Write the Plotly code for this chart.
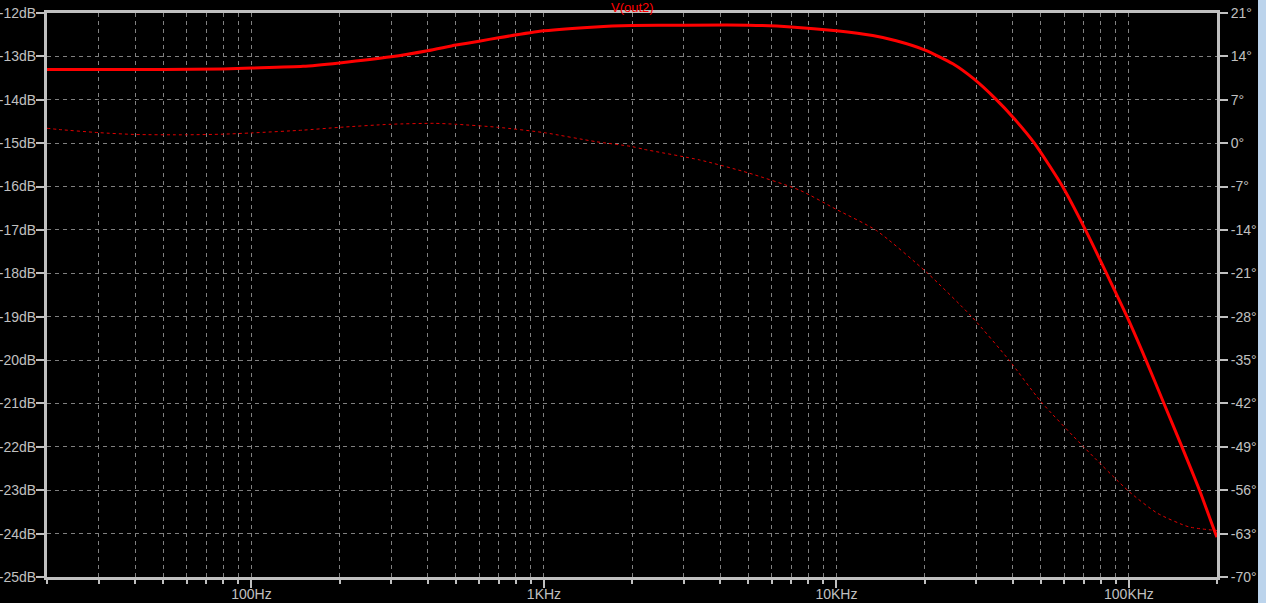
import plotly.graph_objects as go

# ---- data ----
mag_freq = [20, 30, 50, 80, 100, 150, 200, 300, 400, 500, 600, 700, 1000, 1500, 2000,
            3000, 5000, 7000, 10000, 13300, 16000, 20000, 25000, 29500, 35000, 40700,
            47500, 59300, 71000, 83800, 98500, 114300, 131700, 151800, 174300, 197700, 200000]
mag_db = [-13.30, -13.30, -13.30, -13.29, -13.27, -13.23, -13.15, -13.01, -12.87, -12.74,
          -12.65, -12.57, -12.41, -12.32, -12.29, -12.28, -12.28, -12.32, -12.41, -12.52,
          -12.64, -12.85, -13.17, -13.52, -13.98, -14.45, -15.0, -16.0, -17.0, -18.0,
          -19.0, -20.0, -21.0, -22.0, -23.0, -24.0, -24.08]

ph_freq = [20, 22, 30, 40, 60, 80, 100, 150, 200, 300, 420, 500, 700, 1000, 1500, 2000,
           2200, 3400, 5000, 7500, 10000, 13700, 20400, 29000, 38900, 50000, 70000,
           100000, 125000, 160000, 200000]
ph_deg = [2.4, 2.2, 1.7, 1.4, 1.35, 1.45, 1.65, 2.1, 2.55, 3.05, 3.2, 3.05, 2.55, 1.7,
          0.25, -0.55, -1.0, -2.7, -4.8, -7.6, -10.7, -14.1, -20.9, -28.0, -35.0, -41.7,
          -49.0, -56.2, -59.7, -61.9, -62.5]

title_text = "V(out2)"
major_vals = [100, 1000, 10000, 100000]
major_text = ["100Hz", "1KHz", "10KHz", "100KHz"]
minor_vals = [m * d for d in [10, 100, 1000, 10000, 100000] for m in range(2, 10)
              if 20 <= m * d <= 200000]
db_ticks = list(range(-25, -11))
db_text = [f"{v}dB" for v in db_ticks]
deg_ticks = list(range(-70, 22, 7))
deg_text = [f"{v}°" for v in deg_ticks]

# ---- styling ----
AX = "#c0c0c0"
GRID = "#808080"
FONT = dict(family="Liberation Sans, Arial, sans-serif", size=14, color=AX)
W, H = 1266, 603
ML, MR, MT, MB = 47, 49, 13, 26
PW = W - ML - MR

fig = go.Figure()
fig.add_trace(go.Scatter(x=mag_freq, y=mag_db, mode="lines",
                         line=dict(color="#ff0000", width=3, shape="spline", smoothing=0.6),
                         yaxis="y", showlegend=False, hoverinfo="skip"))
fig.add_trace(go.Scatter(x=ph_freq, y=ph_deg, mode="lines",
                         line=dict(color="#e00000", width=1, dash="3px,3px",
                                   shape="spline", smoothing=0.6),
                         yaxis="y2", showlegend=False, hoverinfo="skip"))

fig.update_layout(
    template="none",
    width=W, height=H,
    margin=dict(l=ML, r=MR, t=MT, b=MB, pad=0, autoexpand=False),
    paper_bgcolor="#000000", plot_bgcolor="#000000",
    font=FONT,
    xaxis=dict(type="log", range=[1.30103, 5.30103], automargin=False,
               tickmode="array", tickvals=major_vals, ticktext=major_text,
               ticks="outside", ticklen=8, tickwidth=2, tickcolor=AX,
               ticklabelstandoff=-6,
               showline=True, linecolor=AX, linewidth=3, mirror=True,
               showgrid=True, gridcolor=GRID, gridwidth=1, griddash="4px,4px",
               minor=dict(tickmode="array", tickvals=minor_vals, ticks="outside",
                          ticklen=4, tickwidth=2, tickcolor=AX, showgrid=True,
                          gridcolor=GRID, gridwidth=1, griddash="4px,4px"),
               zeroline=False, tickfont=FONT),
    yaxis=dict(range=[-25, -12], automargin=False, tickmode="array",
               tickvals=db_ticks, ticktext=db_text,
               ticks="outside", ticklen=8, tickwidth=2, tickcolor=AX,
               ticklabelstandoff=-3,
               showline=True, linecolor=AX, linewidth=3,
               showgrid=True, gridcolor=GRID, gridwidth=1, griddash="4px,4px",
               zeroline=False, tickfont=FONT),
    yaxis2=dict(range=[-70, 21], automargin=False, tickmode="array",
                tickvals=deg_ticks, ticktext=deg_text,
                overlaying="y", side="right",
                ticks="outside", ticklen=8, tickwidth=2, tickcolor=AX,
                showline=True, linecolor=AX, linewidth=3,
                showgrid=False, zeroline=False, tickfont=FONT),
    annotations=[dict(text=title_text, xref="paper", yref="paper", x=0.5, y=1,
                      xanchor="center", yanchor="middle", yshift=6, showarrow=False,
                      font=dict(family="Liberation Sans, Arial, sans-serif", size=13,
                                color="#ff0000"))],
    shapes=[dict(type="rect", xref="paper", yref="paper",
                 x0=(1258 - ML) / PW, x1=(W - ML) / PW + 0.01, y0=-1, y1=2,
                 fillcolor="#bcd4ec", line=dict(width=0), layer="above")],
)

fig.write_html("out.html", config={"displayModeBar": False},
               post_script="document.body.style.margin='0';document.body.style.background='#ffffff';")
